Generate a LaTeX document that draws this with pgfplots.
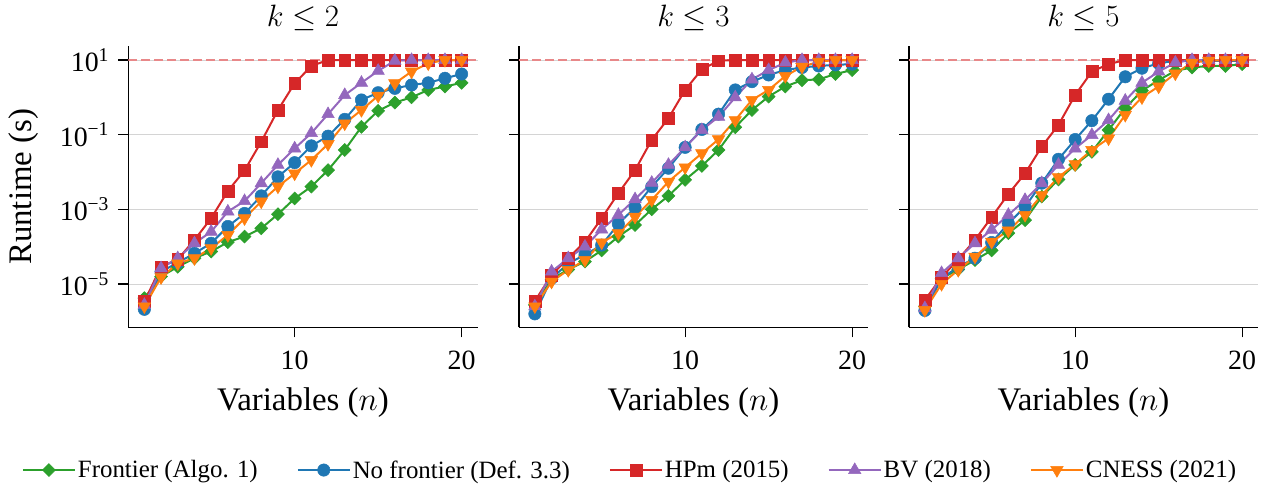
\RequirePackage{fix-cm}
\documentclass[border=0pt]{standalone}
\usepackage[no-math]{fontspec}
\setmainfont{Liberation Serif}
\usepackage{pgfplots}
\pgfplotsset{compat=1.18}
\definecolor{tabblue}{HTML}{1F77B4}
\definecolor{taborange}{HTML}{FF7F0E}
\definecolor{tabgreen}{HTML}{2CA02C}
\definecolor{tabred}{HTML}{D62728}
\definecolor{tabpurple}{HTML}{9467BD}
\tikzset{
  serF/.style={color=tabgreen, line width=2bp, mark=square*, mark size=4.6bp, mark options={rotate=45, line width=0.5bp}},
  serN/.style={color=tabblue, line width=2bp, mark=*, mark size=6.2bp, mark options={line width=0.5bp}},
  serH/.style={color=tabred, line width=2bp, mark=square*, mark size=5.9bp, mark options={line width=0.5bp}},
  serB/.style={color=tabpurple, line width=2bp, mark=triangle*, mark size=7.2bp, mark options={line width=0.5bp}},
  serC/.style={color=taborange, line width=2bp, mark=triangle*, mark size=7.2bp, mark options={rotate=180, line width=0.5bp}},
  serT/.style={color=tabred!55!white, line width=1.5bp, dash pattern=on 9bp off 4bp},
}
\pgfplotsset{
  legend image code/.code={\draw[mark repeat=2,mark phase=2,#1] plot coordinates {(0bp,0bp) (26bp,0bp) (52bp,0bp)};},
}
\begin{document}
\begin{tikzpicture}
\path[use as bounding box] (-128.5bp,-166.7bp) rectangle (1142.5bp,327.3bp);
% ---------- k <= 2 ----------
\begin{axis}[at={(0bp,0bp)}, title={$k \leq 2$},
    width=349bp, height=281bp, scale only axis,
    xmin=0.05, xmax=20.95, ymode=log, ymin=6.9e-7, ymax=23.3,
    axis x line*=bottom, axis y line*=left,
    axis line style={line width=1.2bp, black},
    xtick={10,20}, ytick={1e-5,1e-3,1e-1,10},
    yminorticks=false, xminorticks=false,
    tick align=outside, major tick length=10bp,
    tick style={line width=1.2bp, black},
    ymajorgrids, major grid style={line width=0.8bp, black!17},
    ticklabel style={font=\fontsize{28}{28}\selectfont},
    xticklabel style={yshift=-10bp},
    yticklabel style={xshift=-6bp},
    xlabel={Variables ($n$)},
    xlabel style={font=\fontsize{33}{33}\selectfont, at={(axis description cs:0.5,-0.269)}, anchor=center},
    title style={font=\fontsize{31}{31}\selectfont, inner sep=0pt, at={(axis description cs:0.5,1)}, anchor=base, yshift=14bp},
  yticklabels={10\textsuperscript{−5},10\textsuperscript{−3},10\textsuperscript{−1},10\textsuperscript{1}},
  xticklabels={10,20},
  ylabel={Runtime (s)},
  ylabel style={font=\fontsize{33}{33}\selectfont, at={(axis description cs:-0.302,0.5)}, anchor=center},
  legend style={at={(axis description cs:1.437,-0.508)}, anchor=center, draw=none, fill=none,
    font=\fontsize{25}{25}\selectfont, legend columns=5,
    /tikz/every even column/.append style={column sep=37bp}},
]
\addplot[serT, forget plot] coordinates {(0.05,10) (20.95,10)};
\addplot[serF] coordinates {(1,4.17e-6)(2,1.58e-5)(3,2.88e-5)(4,4.90e-5)(5,7.41e-5)(6,1.32e-4)(7,1.86e-4)(8,3.09e-4)(9,7.41e-4)(10,1.95e-3)(11,4.07e-3)(12,1.12e-2)(13,3.89e-2)(14,0.162)(15,0.437)(16,0.724)(17,1.0)(18,1.58)(19,1.95)(20,2.45)};
\addlegendentry{Frontier (Algo. 1)}
\addplot[serN] coordinates {(1,2.09e-6)(2,2.14e-5)(3,3.72e-5)(4,6.61e-5)(5,1.23e-4)(6,3.47e-4)(7,7.76e-4)(8,2.29e-3)(9,7.41e-3)(10,1.78e-2)(11,5.01e-2)(12,9.12e-2)(13,0.257)(14,0.851)(15,1.33)(16,1.74)(17,2.14)(18,2.45)(19,3.24)(20,4.22)};
\addlegendentry{No frontier (Def. 3.3)}
\addplot[serH] coordinates {(1,3.39e-6)(2,2.88e-5)(3,4.57e-5)(4,1.51e-4)(5,5.75e-4)(6,3.09e-3)(7,1.10e-2)(8,6.46e-2)(9,0.457)(10,2.37)(11,6.92)(12,10)(13,10)(14,10)(15,10)(16,10)(17,10)(18,10)(19,10)(20,10)};
\addlegendentry{HPm (2015)}
\addplot[serB] coordinates {(1,2.75e-6)(2,2.63e-5)(3,4.90e-5)(4,1.23e-4)(5,2.51e-4)(6,8.71e-4)(7,1.66e-3)(8,5.01e-3)(9,1.55e-2)(10,4.27e-2)(11,0.110)(12,0.355)(13,1.15)(14,2.45)(15,5.13)(16,9.55)(17,10)(18,10)(19,10)(20,10)};
\addlegendentry{BV (2018)}
\addplot[serC] coordinates {(1,2.51e-6)(2,1.51e-5)(3,3.55e-5)(4,4.90e-5)(5,9.12e-5)(6,2.04e-4)(7,5.75e-4)(8,1.62e-3)(9,4.07e-3)(10,9.12e-3)(11,2.09e-2)(12,5.62e-2)(13,0.200)(14,0.457)(15,1.10)(16,2.37)(17,4.90)(18,8.13)(19,10)(20,10)};
\addlegendentry{CNESS (2021)}
\end{axis}
% ---------- k <= 3 ----------
\begin{axis}[at={(390.5bp,0bp)}, title={$k \leq 3$},
    width=349bp, height=281bp, scale only axis,
    xmin=0.05, xmax=20.95, ymode=log, ymin=6.9e-7, ymax=23.3,
    axis x line*=bottom, axis y line*=left,
    axis line style={line width=1.2bp, black},
    xtick={10,20}, ytick={1e-5,1e-3,1e-1,10},
    yminorticks=false, xminorticks=false,
    tick align=outside, major tick length=10bp,
    tick style={line width=1.2bp, black},
    ymajorgrids, major grid style={line width=0.8bp, black!17},
    ticklabel style={font=\fontsize{28}{28}\selectfont},
    xticklabel style={yshift=-10bp},
    xlabel={Variables ($n$)},
    xlabel style={font=\fontsize{33}{33}\selectfont, at={(axis description cs:0.5,-0.269)}, anchor=center},
    title style={font=\fontsize{31}{31}\selectfont, inner sep=0pt, at={(axis description cs:0.5,1)}, anchor=base, yshift=14bp},
  yticklabels={}, xticklabels={10,20},
]
\addplot[serT] coordinates {(0.05,10) (20.95,10)};
\addplot[serF] coordinates {(1,2.75e-6)(2,1.33e-5)(3,2.45e-5)(4,3.98e-5)(5,7.94e-5)(6,1.86e-4)(7,3.80e-4)(8,1.0e-3)(9,2.29e-3)(10,6.17e-3)(11,1.45e-2)(12,3.89e-2)(13,0.158)(14,0.457)(15,1.05)(16,1.95)(17,2.88)(18,3.02)(19,4.22)(20,5.37)};
\addplot[serN] coordinates {(1,1.58e-6)(2,1.41e-5)(3,3.55e-5)(4,6.03e-5)(5,1.10e-4)(6,4.07e-4)(7,1.12e-3)(8,4.07e-3)(9,1.26e-2)(10,4.57e-2)(11,0.138)(12,0.355)(13,1.58)(14,2.63)(15,3.98)(16,5.37)(17,6.31)(18,6.92)(19,7.41)(20,7.76)};
\addplot[serH] coordinates {(1,3.47e-6)(2,1.74e-5)(3,4.90e-5)(4,1.35e-4)(5,5.75e-4)(6,2.69e-3)(7,1.12e-2)(8,7.24e-2)(9,0.275)(10,1.58)(11,5.62)(12,9.55)(13,10)(14,10)(15,10)(16,10)(17,10)(18,10)(19,10)(20,10)};
\addplot[serB] coordinates {(1,2.51e-6)(2,2.14e-5)(3,4.90e-5)(4,1.0e-4)(5,2.88e-4)(6,7.08e-4)(7,1.86e-3)(8,5.13e-3)(9,1.55e-2)(10,4.57e-2)(11,0.133)(12,0.302)(13,1.0)(14,3.02)(15,5.37)(16,8.51)(17,10)(18,10)(19,10)(20,10)};
\addplot[serC] coordinates {(1,2.51e-6)(2,1.15e-5)(3,2.37e-5)(4,4.37e-5)(5,1.29e-4)(6,2.29e-4)(7,6.31e-4)(8,1.78e-3)(9,5.50e-3)(10,1.33e-2)(11,3.16e-2)(12,7.50e-2)(13,0.245)(14,0.851)(15,1.58)(16,3.72)(17,6.61)(18,9.02)(19,10)(20,10)};
\end{axis}
% ---------- k <= 5 ----------
\begin{axis}[at={(780.5bp,0bp)}, title={$k \leq 5$},
    width=349bp, height=281bp, scale only axis,
    xmin=0.05, xmax=20.95, ymode=log, ymin=6.9e-7, ymax=23.3,
    axis x line*=bottom, axis y line*=left,
    axis line style={line width=1.2bp, black},
    xtick={10,20}, ytick={1e-5,1e-3,1e-1,10},
    yminorticks=false, xminorticks=false,
    tick align=outside, major tick length=10bp,
    tick style={line width=1.2bp, black},
    ymajorgrids, major grid style={line width=0.8bp, black!17},
    ticklabel style={font=\fontsize{28}{28}\selectfont},
    xticklabel style={yshift=-10bp},
    xlabel={Variables ($n$)},
    xlabel style={font=\fontsize{33}{33}\selectfont, at={(axis description cs:0.5,-0.269)}, anchor=center},
    title style={font=\fontsize{31}{31}\selectfont, inner sep=0pt, at={(axis description cs:0.5,1)}, anchor=base, yshift=14bp},
  yticklabels={}, xticklabels={10,20},
]
\addplot[serT] coordinates {(0.05,10) (20.95,10)};
\addplot[serF] coordinates {(1,2.51e-6)(2,1.41e-5)(3,2.45e-5)(4,4.37e-5)(5,7.94e-5)(6,2.29e-4)(7,5.13e-4)(8,2.19e-3)(9,6.31e-3)(10,1.55e-2)(11,3.47e-2)(12,0.133)(13,0.513)(14,1.51)(15,2.88)(16,5.13)(17,6.31)(18,6.92)(19,6.92)(20,7.76)};
\addplot[serN] coordinates {(1,1.95e-6)(2,1.41e-5)(3,2.88e-5)(4,4.90e-5)(5,1.29e-4)(6,4.17e-4)(7,1.17e-3)(8,5.01e-3)(9,2.19e-2)(10,7.41e-2)(11,0.237)(12,0.891)(13,3.55)(14,6.03)(15,8.13)(16,9.55)(17,9.55)(18,9.55)(19,9.55)(20,9.55)};
\addplot[serH] coordinates {(1,3.72e-6)(2,1.51e-5)(3,4.57e-5)(4,1.51e-4)(5,6.17e-4)(6,2.57e-3)(7,9.12e-3)(8,4.79e-2)(9,0.182)(10,1.15)(11,4.90)(12,7.76)(13,10)(14,10)(15,10)(16,10)(17,10)(18,10)(19,10)(20,10)};
\addplot[serB] coordinates {(1,2.24e-6)(2,1.95e-5)(3,4.90e-5)(4,1.23e-4)(5,2.82e-4)(6,7.08e-4)(7,1.78e-3)(8,5.01e-3)(9,1.55e-2)(10,4.27e-2)(11,9.77e-2)(12,0.245)(13,0.813)(14,2.45)(15,4.90)(16,8.51)(17,10)(18,10)(19,10)(20,10)};
\addplot[serC] coordinates {(1,2.0e-6)(2,1.0e-5)(3,2.37e-5)(4,5.37e-5)(5,1.35e-4)(6,2.69e-4)(7,7.08e-4)(8,2.40e-3)(9,7.24e-3)(10,1.62e-2)(11,3.89e-2)(12,7.94e-2)(13,0.339)(14,1.0)(15,1.95)(16,4.37)(17,8.51)(18,9.55)(19,10)(20,10)};
\end{axis}
\end{tikzpicture}
\end{document}
